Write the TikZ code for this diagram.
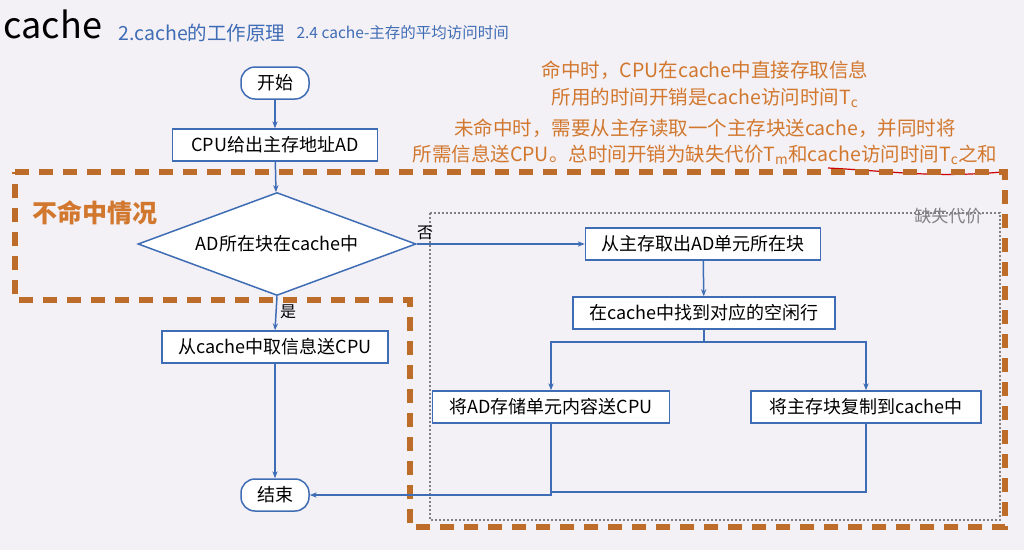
\documentclass[tikz,border=0pt]{standalone}
\usepackage{fontspec}
\setmainfont{Noto Sans CJK SC}
\usetikzlibrary{shapes.geometric,arrows.meta,positioning}
\definecolor{flowblue}{HTML}{3F6DB5}
\definecolor{noteorange}{HTML}{D2782E}
\definecolor{bgpurple}{HTML}{F3F0F6}
\tikzset{
  procbox/.style={draw=flowblue, fill=white, line width=1.5pt, minimum height=32pt, font=\fontsize{18}{20}\selectfont},
  termbox/.style={procbox, rounded corners=14pt, minimum width=68pt},
  flow/.style={-{Stealth[length=7pt]}, draw=flowblue, line width=1.5pt},
  note/.style={text=noteorange, font=\fontsize{19.5}{21}\selectfont},
}
\begin{document}
\begin{tikzpicture}[x=1pt,y=-1pt]
  \useasboundingbox[fill=bgpurple] (0,0) rectangle (1024,550);
  % titles
  \node[anchor=west, font=\fontsize{36}{38}\selectfont] (title) at (0,24) {cache};
  \node[anchor=west, text=flowblue, font=\fontsize{19.5}{21}\selectfont] (sec) at (115,33) {2.cache的工作原理};
  \node[anchor=west, text=flowblue, font=\fontsize{15.5}{17}\selectfont] (sub) at (293,33) {2.4 cache-主存的平均访问时间};
  % notes
  \node[note] (n1) at (705,70) {命中时，CPU在cache中直接存取信息};
  \node[note] (n2) at (705,98) {所用的时间开销是cache访问时间T\textsubscript{c}};
  \node[note] (n3) at (705,128) {未命中时，需要从主存读取一个主存块送cache，并同时将};
  \node[note] (n4) at (705,155) {所需信息送CPU。总时间开销为缺失代价T\textsubscript{m}和cache访问时间T\textsubscript{c}之和};
  \draw[red!80!black, line width=1.2pt] (828,168) to[out=-3,in=185] (1002,172);
  % regions
  \draw[gray, dash pattern=on 2pt off 2pt, line width=1.2pt] (430,213) rectangle (1000,520);
  \node[text=gray, anchor=east, font=\fontsize{17}{19}\selectfont] (miss) at (986,216) {缺失代价};
  \draw[noteorange!90!black, line width=6pt, dash pattern=on 14pt off 10pt]
    (15,172) -- (1005,172) -- (1005,527) -- (410,527) -- (410,300) -- (15,300) -- cycle;
  \node[text=noteorange, font=\bfseries\fontsize{25}{27}\selectfont] (nohit) at (95,213) {不命中情况};
  % flow
  \node[termbox] (start) at (275,83) {开始};
  \node[procbox, minimum width=205pt] (addr) at (275,145) {CPU给出主存地址AD};
  \node[diamond, draw=flowblue, fill=white, line width=1.5pt, aspect=2.7, inner sep=1pt,
        minimum width=278pt, minimum height=103pt, font=\fontsize{18}{20}\selectfont] (inc) at (277,244) {AD所在块在cache中};
  \node[procbox, minimum width=226pt] (get) at (275,347) {从cache中取信息送CPU};
  \node[termbox] (stop) at (275,495) {结束};
  \node[procbox, minimum width=235pt] (fetch) at (703,244) {从主存取出AD单元所在块};
  \node[procbox, minimum width=262pt] (find) at (704,313) {在cache中找到对应的空闲行};
  \node[procbox, minimum width=237pt] (send) at (551,407) {将AD存储单元内容送CPU};
  \node[procbox, minimum width=230pt] (copy) at (866,407) {将主存块复制到cache中};
  \coordinate (split) at (704,342);
  \coordinate (join) at (551,492);
  \draw[flow] (start) -- (addr);
  \draw[flow] (addr) -- (inc);
  \draw[flow] (inc.east) -- node[pos=0.05, above, font=\fontsize{16}{18}\selectfont, text=black] {否} (fetch.west);
  \draw[flow] (inc.south) -- node[pos=0.45, right, font=\fontsize{16}{18}\selectfont, text=black] {是} (get.north);
  \draw[flow] (get) -- (stop);
  \draw[flow] (fetch) -- (find);
  \draw[flow, -] (find.south) -- (split);
  \draw[flow] (split) -| (send.north);
  \draw[flow] (split) -| (copy.north);
  \draw[flow] (send.south) |- (stop.east);
  \draw[flow, -] (copy.south) |- (join);
\end{tikzpicture}
\end{document}
